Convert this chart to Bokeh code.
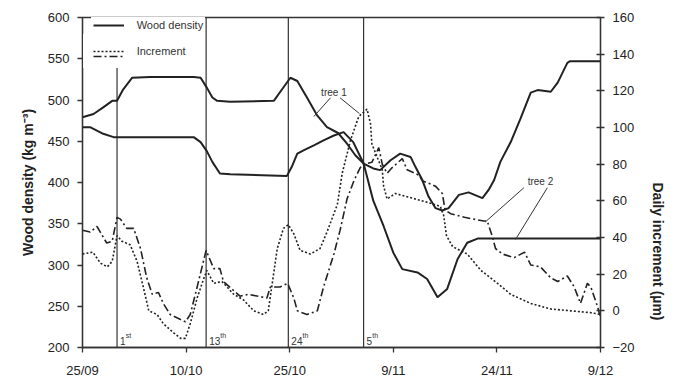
import math
from bokeh.plotting import figure
from bokeh.models import (Range1d, LinearAxis, FixedTicker, Legend, LegendItem,
                          ColumnDataSource)
from bokeh.core.properties import value
from bokeh.embed import file_html
from bokeh.resources import INLINE

# ---------------- data ----------------
tick_days = [0, 15, 30, 45, 60, 75]
tick_dates = ["25/09", "10/10", "25/10", "9/11", "24/11", "9/12"]

# wood density (kg m-3), tree 1
t1_day = [0, 1.6, 3.0, 4.3, 5.0, 5.9, 7.2, 9.8, 16.1, 17.1, 18.0, 18.8, 19.5, 21.4, 27.7,
          28.9, 30.1, 31.1, 32.5, 34.0, 35.4, 37.0, 38.3, 39.5, 40.7, 42.1, 43.1, 44.6, 46.0,
          47.5, 48.2, 49.2, 50.1, 51.1, 52.1, 53.0, 54.5, 55.9, 57.9, 58.8, 59.6, 60.5, 62.0,
          63.4, 64.9, 65.9, 67.8, 68.8, 70.2, 70.6, 75.0]
t1_density = [479, 483, 491, 499, 499, 513, 527, 528, 528, 527, 515, 503, 499, 498, 499,
              513, 527, 523, 503, 481, 467, 460, 447, 433, 423, 417, 415, 427, 435,
              431, 419, 403, 383, 369, 366, 369, 385, 388, 381, 391, 403, 425, 449,
              477, 509, 512, 510, 521, 545, 547, 547]

# wood density (kg m-3), tree 2
t2_day = [0, 1.1, 3.0, 4.5, 16.1, 17.1, 18.0, 18.8, 19.9, 21.4, 29.6, 30.3, 31.1, 32.0, 33.5,
          34.9, 36.4, 37.8, 39.2, 40.7, 42.1, 43.6, 45.0, 46.3, 48.5, 49.9, 51.4, 52.8, 54.3,
          55.7, 57.2, 75.0]
t2_density = [467, 467, 459, 455, 455, 449, 438, 425, 411, 410, 408, 419, 435, 439, 445,
              451, 457, 461, 449, 423, 378, 347, 315, 295, 291, 283, 261, 271, 307,
              327, 332, 332]

# daily increment (um), tree 1 (dotted)
i1_day = [0, 1.5, 2.6, 3.6, 4.3, 5.0, 5.7, 6.9, 7.9, 8.8, 9.6, 10.8, 11.7, 13.2, 14.2,
          14.9, 15.6, 16.6, 17.5, 18.0, 19.0, 20.2, 21.9, 23.3, 24.8, 26.2, 26.9, 27.4, 28.2,
          29.1, 29.8, 30.6, 31.5, 33.0, 34.4, 35.4, 36.9, 37.6, 38.8, 40.0, 41.2, 41.7, 41.9,
          43.4, 43.6, 44.1, 45.3, 48.2, 50.1, 51.8, 52.3, 52.7, 53.6, 55.7, 57.7, 60.1, 62.0,
          64.9, 67.8, 70.7, 73.6, 75.0]
i1_um = [31, 32, 26, 24, 27, 41, 38, 36, 27, 13, 0, -2, -7, -12, -15,
         -15, -7, 7, 17, 22, 15, 16, 9, 6, 0, -2, 0, 13, 34,
         45, 47, 42, 33, 31, 34, 43, 58, 75, 93, 106, 110, 102, 91,
         77, 68, 61, 64, 61, 59, 57, 52, 41, 35, 31, 22, 15, 9,
         4, 1, 0, -1, -2]

# daily increment (um), tree 2 (dash-dot)
i2_day = [0, 1.1, 2.1, 3.5, 4.3, 5.0, 5.5, 6.4, 7.4, 8.4, 9.3, 10.1, 11.0, 11.7, 12.7,
          14.9, 15.6, 16.6, 17.9, 19.0, 19.9, 20.4, 21.9, 22.8, 24.0, 26.7, 27.2, 28.6, 29.7,
          30.6, 31.1, 32.5, 34.0, 34.9, 36.4, 37.3, 38.3, 39.3, 40.2, 40.7, 41.9, 42.9, 43.4,
          44.1, 44.8, 46.3, 47.0, 48.7, 49.2, 51.1, 52.1, 52.5, 53.3, 55.3, 58.1, 58.6, 59.3,
          59.8, 60.8, 62.5, 64.0, 64.9, 66.3, 67.8, 68.8, 70.2, 71.2, 72.1, 73.1, 73.6, 74.6,
          75.0]
i2_um = [44, 43, 46, 37, 38, 51, 50, 45, 45, 34, 18, 9, 10, 4, -2,
         -6, -2, 13, 33, 23, 23, 16, 11, 8, 9, 7, 13, 13, 15,
         7, 0, -2, 0, 13, 31, 44, 61, 71, 78, 80, 81, 89, 80,
         75, 78, 83, 77, 74, 71, 68, 64, 55, 53, 51, 49, 49, 41,
         34, 31, 29, 32, 25, 24, 18, 16, 19, 13, 4, 15, 13, 2,
         -4]

# sampling events
event_day = [5.0, 17.9, 29.8, 40.7]
event_num = ["1", "13", "24", "5"]
event_suffix = ["st", "th", "th", "th"]

# tree annotations
tree_labels = ["tree 1", "tree 2"]
tree_label_day = [36.4, 66.3]
tree_label_density = [509, 401]
leader_day0 = [35.9, 37.3, 63.9, 67.3]
leader_den0 = [502.6, 502.6, 393.6, 393.6]
leader_day1 = [33.5, 40.1, 58.3, 62.7]
leader_den1 = [480, 483.5, 352, 331]

density_range = (200, 600)
increment_range = (-20, 160)

# ---------------- figure ----------------
FONT = "Liberation Sans"
INK = "#222222"

p = figure(width=677, height=380, output_backend="svg", toolbar_location=None,
           x_range=Range1d(0, 75), y_range=Range1d(*density_range),
           min_border_left=82, min_border_right=77, min_border_top=17, min_border_bottom=30)
p.extra_y_ranges = {"inc": Range1d(*increment_range)}
p.xgrid.visible = False
p.ygrid.visible = False
p.outline_line_color = "#333333"
p.outline_line_width = 1.3
p.background_fill_color = "white"
p.border_fill_color = "white"

def style_axis(ax):
    ax.axis_line_color = "#333333"
    ax.axis_line_width = 1.3
    ax.major_tick_line_color = "#333333"
    ax.major_tick_line_width = 1.3
    ax.minor_tick_line_color = None
    ax.major_label_text_font = FONT
    ax.major_label_text_font_size = "13px"
    ax.major_label_text_color = INK
    ax.axis_label_text_font = FONT
    ax.axis_label_text_font_size = "14px"
    ax.axis_label_text_font_style = "bold"
    ax.axis_label_text_color = INK

xa = p.xaxis[0]
style_axis(xa)
xa.ticker = FixedTicker(ticks=tick_days)
xa.major_label_overrides = {d: s for d, s in zip(tick_days, tick_dates)}
xa.major_tick_in = 0
xa.major_tick_out = 5
xa.major_label_standoff = 10

ya = p.yaxis[0]
style_axis(ya)
ya.ticker = FixedTicker(ticks=list(range(200, 601, 50)))
ya.major_tick_in = 0
ya.major_tick_out = 5
ya.major_label_standoff = 8
ya.axis_label = "Wood density (kg m\u207b\u00b3)"
ya.axis_label_standoff = 9

ra = LinearAxis(y_range_name="inc")
style_axis(ra)
ra.ticker = FixedTicker(ticks=list(range(-20, 161, 20)))
ra.major_tick_in = 4
ra.major_tick_out = 4
ra.major_label_standoff = 8
ra.axis_label = "Daily increment (\u00b5m)"
ra.axis_label_standoff = 20
ra.axis_label_orientation = -math.pi / 2
p.add_layout(ra, "right")

# sampling event lines
p.segment(x0=event_day, y0=[density_range[0]] * 4, x1=event_day, y1=[density_range[1]] * 4,
          line_color="#333333", line_width=1.2)

# series
r_s1 = p.line(t1_day, t1_density, line_color=INK, line_width=2)
r_s2 = p.line(t2_day, t2_density, line_color=INK, line_width=2)
r_i1 = p.line(i1_day, i1_um, y_range_name="inc", line_color=INK, line_width=1.6,
              line_dash="2 2")
r_i2 = p.line(i2_day, i2_um, y_range_name="inc", line_color=INK, line_width=1.6,
              line_dash="8 3 2 3")

# event labels with superscript suffix
ev_src = ColumnDataSource(dict(
    x=event_day, y=[density_range[0]] * 4, num=event_num, suf=event_suffix,
    suf_off=[3 + 5.6 * len(n) for n in event_num]))
p.text(x="x", y="y", text="num", source=ev_src, x_offset=3, y_offset=-7,
       text_font=value(FONT), text_font_size="10px", text_color="#333333",
       text_baseline="alphabetic", text_align="left")
p.text(x="x", y="y", text="suf", source=ev_src, x_offset="suf_off", y_offset=-12,
       text_font=value(FONT), text_font_size="7px", text_color="#333333",
       text_baseline="alphabetic", text_align="left")

# tree annotations
p.segment(x0=leader_day0, y0=leader_den0, x1=leader_day1, y1=leader_den1,
          line_color="#333333", line_width=1)
p.text(x=tree_label_day, y=tree_label_density, text=tree_labels,
       text_font=value(FONT), text_font_size="10px", text_color="#333333",
       text_baseline="middle", text_align="center")

# legends (frame height 333); invisible borders keep the padding active
common = dict(glyph_width=31, label_standoff=13, spacing=0,
              label_text_font=FONT, label_text_font_size="11px",
              label_text_color="#333333", border_line_color="white", border_line_alpha=0)
leg1 = Legend(items=[LegendItem(label="Wood density", renderers=[r_s1])],
              location=(8.7, 312), padding=2, glyph_height=16, label_height=16,
              background_fill_color="white", background_fill_alpha=1, **common)
leg2 = Legend(items=[LegendItem(label="Increment", renderers=[r_i1])],
              location=(0.7, 279.5), padding=10, glyph_height=14, label_height=14,
              background_fill_color="white", background_fill_alpha=1, **common)
leg3 = Legend(items=[LegendItem(label=" ", renderers=[r_i2])],
              location=(0.7, 274), padding=10, glyph_height=14, label_height=14,
              background_fill_alpha=0, **common)
p.add_layout(leg1)
p.add_layout(leg2)
p.add_layout(leg3)

open("out.html", "w").write(file_html(p, INLINE))
